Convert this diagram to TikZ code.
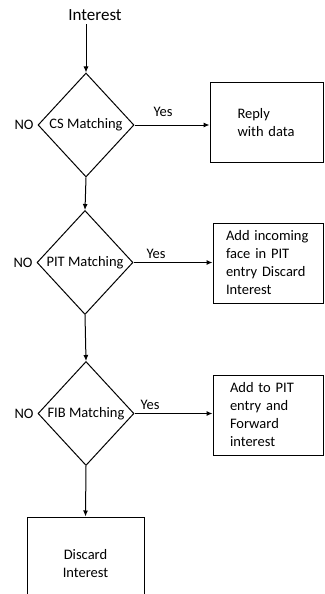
\documentclass[tikz,border=0pt]{standalone}
\usepackage{fontspec}
\setmainfont{Carlito}
\usetikzlibrary{arrows.meta,shapes.geometric}

\begin{document}
\begin{tikzpicture}[x=1pt,y=-1pt,line width=1pt,
  font=\fontsize{14.5}{18}\selectfont,
  decision/.style={draw,diamond,inner sep=0pt,minimum width=96,minimum height=104},
  action/.style={draw,rectangle,inner sep=0pt,minimum height=80,align=left},
  flow/.style={-{Latex[length=6pt,width=5pt]}}]
\clip (0,0) rectangle (324,594);
\node (title) at (95,15) {\fontsize{17}{20}\selectfont Interest};
\node[decision] (cs) at (86,125) {CS Matching};
\node[decision] (pit) at (85,262.5) {PIT Matching};
\node[decision] (fib) at (86,413.5) {FIB Matching}; % checks
\node[action,minimum width=113,text width=58] (reply) at (266.5,122.5) {Reply\\with data};
\node[action,minimum width=110,text width=84] (addface) at (268,263) {Add incoming face in PIT entry Discard Interest};
\node[action,minimum width=110,text width=76] (fwd) at (268,415) {Add to PIT entry and Forward interest};
\node[action,align=center,minimum width=117,minimum height=94] (drop) at (85.5,564) {Discard\\Interest}; % boxes
\node[left,inner sep=3.5pt] (no1) at (cs.west) {NO};
\node[left,inner sep=3.5pt] (no2) at (pit.west) {NO};
\node[left,inner sep=3.5pt] (no3) at (fib.west) {NO};
\node (yes1) at (163,112) {Yes};
\node (yes2) at (156,254) {Yes};
\node (yes3) at (150,405) {Yes}; % labels
\draw[flow] (title.south -| cs.north) -- (cs.north);
\draw[flow] (cs.south) -- (pit.north);
\draw[flow] (pit.south) -- (fib.north);
\draw[flow] (fib.south) -- (drop.north);
\draw[flow] (cs.east) -- (cs.east -| reply.west);
\draw[flow] (pit.east) -- (pit.east -| addface.west);
\draw[flow] (fib.east) -- (fib.east -| fwd.west); % arrows
\end{tikzpicture}
\end{document}
